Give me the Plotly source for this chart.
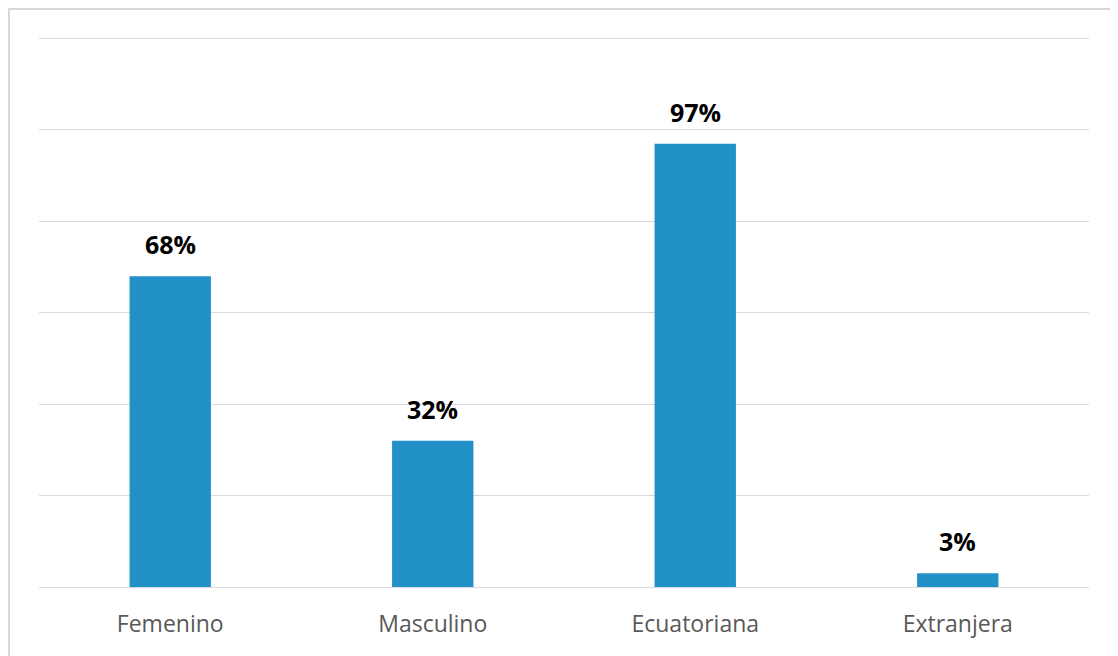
import plotly.graph_objects as go

categories = ["Femenino", "Masculino", "Ecuatoriana", "Extranjera"]
values = [68, 32, 97, 3]
labels = ["68%", "32%", "97%", "3%"]

bar_color = "#2191C8"

fig = go.Figure()
fig.add_trace(go.Bar(
    x=categories, y=values,
    marker=dict(color=bar_color, line=dict(width=0)),
    width=0.31,
    hoverinfo="skip",
))

for c, v, t in zip(categories, values, labels):
    fig.add_annotation(
        x=c, y=v, text="<b>%s</b>" % t, showarrow=False,
        yanchor="bottom", yshift=13,
        font=dict(family="Open Sans", size=25, color="#000000"),
    )

# chart border (page body has 8px margin, so figure is offset by 8px)
fig.add_shape(type="rect", xref="paper", yref="paper",
              x0=-30 / 1050, x1=1.2, y0=-0.3, y1=1 + 25 / 553,
              line=dict(color="#d9d9d9", width=2), layer="below")

fig.update_layout(
    width=1110, height=648,
    margin=dict(l=31, r=29, t=26, b=69),
    paper_bgcolor="white", plot_bgcolor="white",
    showlegend=False,
    bargap=0.69,
    xaxis=dict(showgrid=False, showline=False, zeroline=False, ticks="",
               tickfont=dict(family="Open Sans", size=23, color="#595959"),
               ticklabelstandoff=21, range=[-0.5, 3.5]),
    yaxis=dict(range=[0, 121], tickvals=[0, 20, 40, 60, 80, 100, 120],
               showticklabels=False,
               showgrid=True, gridcolor="#d9d9d9", gridwidth=1,
               zeroline=True, zerolinecolor="#d9d9d9", zerolinewidth=1,
               showline=False, ticks=""),
)

fig.write_html("out.html")
